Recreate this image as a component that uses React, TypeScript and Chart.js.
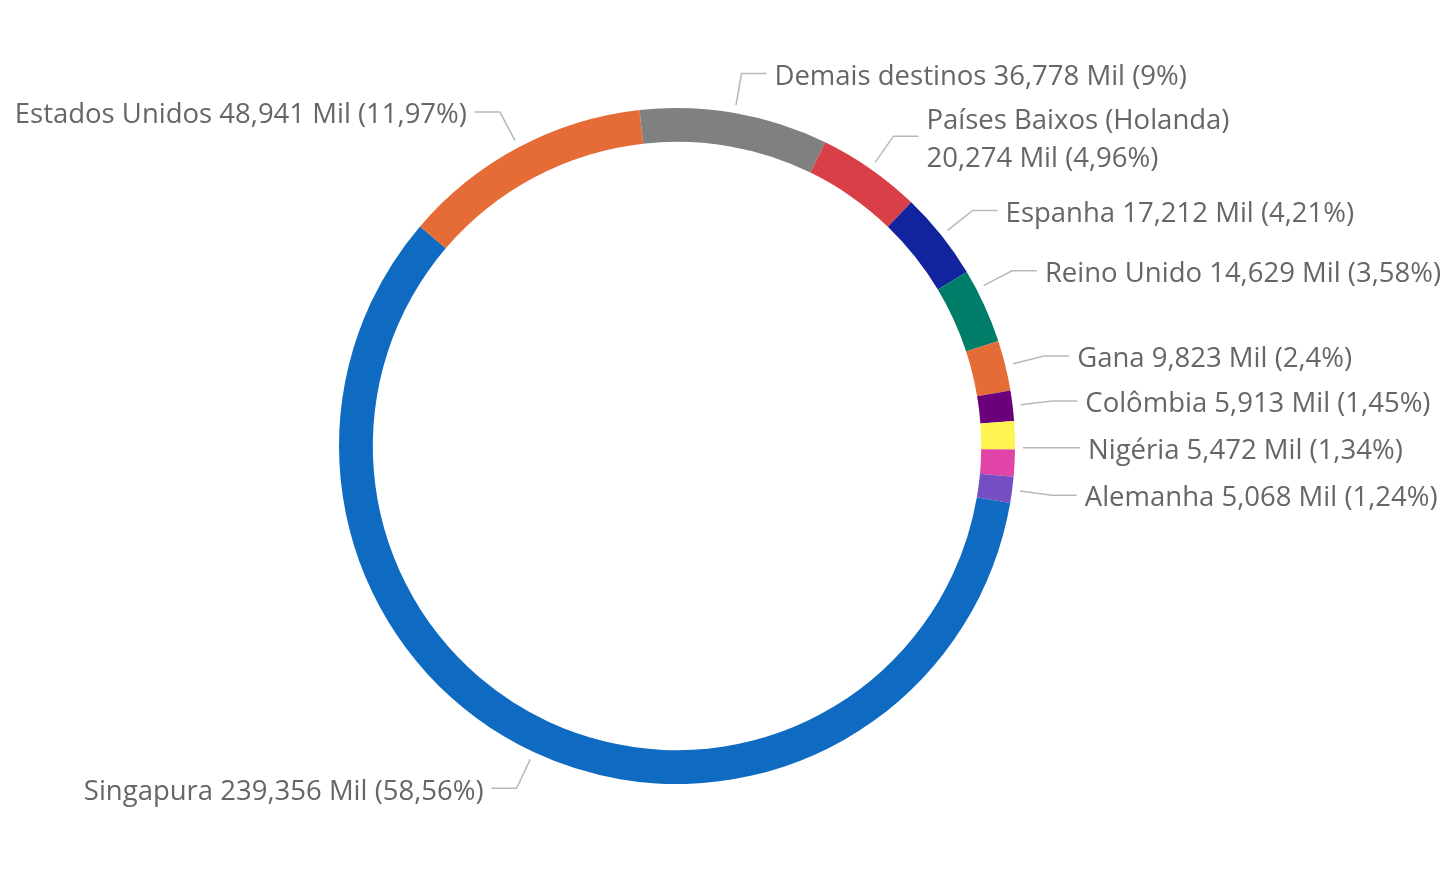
import React, { useEffect, useRef } from 'react';
import { Chart, registerables } from 'chart.js';

Chart.register(...registerables);

const categories = [
  'Singapura',
  'Estados Unidos',
  'Demais destinos',
  'Países Baixos (Holanda)',
  'Espanha',
  'Reino Unido',
  'Gana',
  'Colômbia',
  'Nigéria',
  '',
  'Alemanha',
];
const values = [239.356, 48.941, 36.778, 20.274, 17.212, 14.629, 9.823, 5.913, 5.472, 5.271, 5.068];
const colors = [
  '#0F6BC1',
  '#E66C37',
  '#808080',
  '#D93F46',
  '#12239E',
  '#007D68',
  '#E66C37',
  '#6B007B',
  '#FFF450',
  '#E044A7',
  '#744EC2',
];
// small angular nudges (degrees) Power BI applies to avoid label crowding
const labelAngleShift = [0, 0, 0, 0, 0, -3.1, 0, 0, 2.1, 0, 0];

const FONT = '27.5px "Open Sans", "Noto Sans", sans-serif';
const TEXT_COLOR = '#666666';
const LINE_COLOR = '#B8B8B8';

const fmtNum = (v: number, dec: number, trim: boolean) => {
  let s = v.toFixed(dec);
  if (trim) s = s.replace(/\.?0+$/, '');
  return s.replace('.', ',');
};

const labelPlugin = {
  id: 'pbiLabels',
  afterDraw(chart: any) {
    const ctx = chart.ctx;
    const meta = chart.getDatasetMeta(0);
    const total = values.reduce((a, b) => a + b, 0);
    ctx.save();
    ctx.font = FONT;
    ctx.textBaseline = 'middle';
    meta.data.forEach((arc: any, i: number) => {
      if (!categories[i]) return;
      const p = arc.getProps(['x', 'y', 'startAngle', 'endAngle', 'outerRadius'], true);
      const mid = (p.startAngle + p.endAngle) / 2 + (labelAngleShift[i] * Math.PI) / 180;
      const c = Math.cos(mid);
      const s = Math.sin(mid);
      const r1 = p.outerRadius + 8;
      const r2 = p.outerRadius + 40;
      const x1 = p.x + c * r1;
      const y1 = p.y + s * r1;
      const x2 = p.x + c * r2;
      const y2 = p.y + s * r2;
      const right = c >= 0;
      const x3 = x2 + (right ? 25 : -25);
      ctx.strokeStyle = LINE_COLOR;
      ctx.lineWidth = 1.5;
      ctx.beginPath();
      ctx.moveTo(x1, y1);
      ctx.lineTo(x2, y2);
      ctx.lineTo(x3, y2);
      ctx.stroke();

      const valTxt = `${fmtNum(values[i], 3, false)} Mil (${fmtNum((values[i] / total) * 100, 2, true)}%)`;
      const full = `${categories[i]} ${valTxt}`;
      const tx = x3 + (right ? 8 : -8);
      ctx.fillStyle = TEXT_COLOR;
      ctx.textAlign = right ? 'left' : 'right';
      const avail = right ? chart.width - tx : tx;
      const w = ctx.measureText(full).width;
      if (w > avail + 12) {
        const lh = 38;
        ctx.fillText(categories[i], tx, y2 + 4 - lh / 2);
        ctx.fillText(valTxt, tx, y2 + 4 + lh / 2);
      } else {
        ctx.fillText(full, tx, y2 + 3.5);
      }
    });
    ctx.restore();
  },
};

export default function App() {
  const ref = useRef<HTMLCanvasElement | null>(null);
  useEffect(() => {
    document.body.style.margin = '0';
    const chart = new Chart(ref.current as HTMLCanvasElement, {
      type: 'doughnut',
      data: {
        labels: categories,
        datasets: [
          {
            data: values,
            backgroundColor: colors,
            borderWidth: 0,
          },
        ],
      },
      options: {
        responsive: false,
        animation: false,
        rotation: 99.7,
        cutout: '90%',
        layout: { padding: { left: 339, right: 425, top: 108, bottom: 93 } },
        plugins: {
          legend: { display: false },
          tooltip: { enabled: false },
        },
      },
      plugins: [labelPlugin],
    });
    return () => chart.destroy();
  }, []);
  return (
    <div style={{ position: 'fixed', left: 0, top: 0, width: 1440, height: 877, background: '#fff' }}>
      <canvas ref={ref} width={1440} height={877} style={{ width: 1440, height: 877 }} />
    </div>
  );
}
